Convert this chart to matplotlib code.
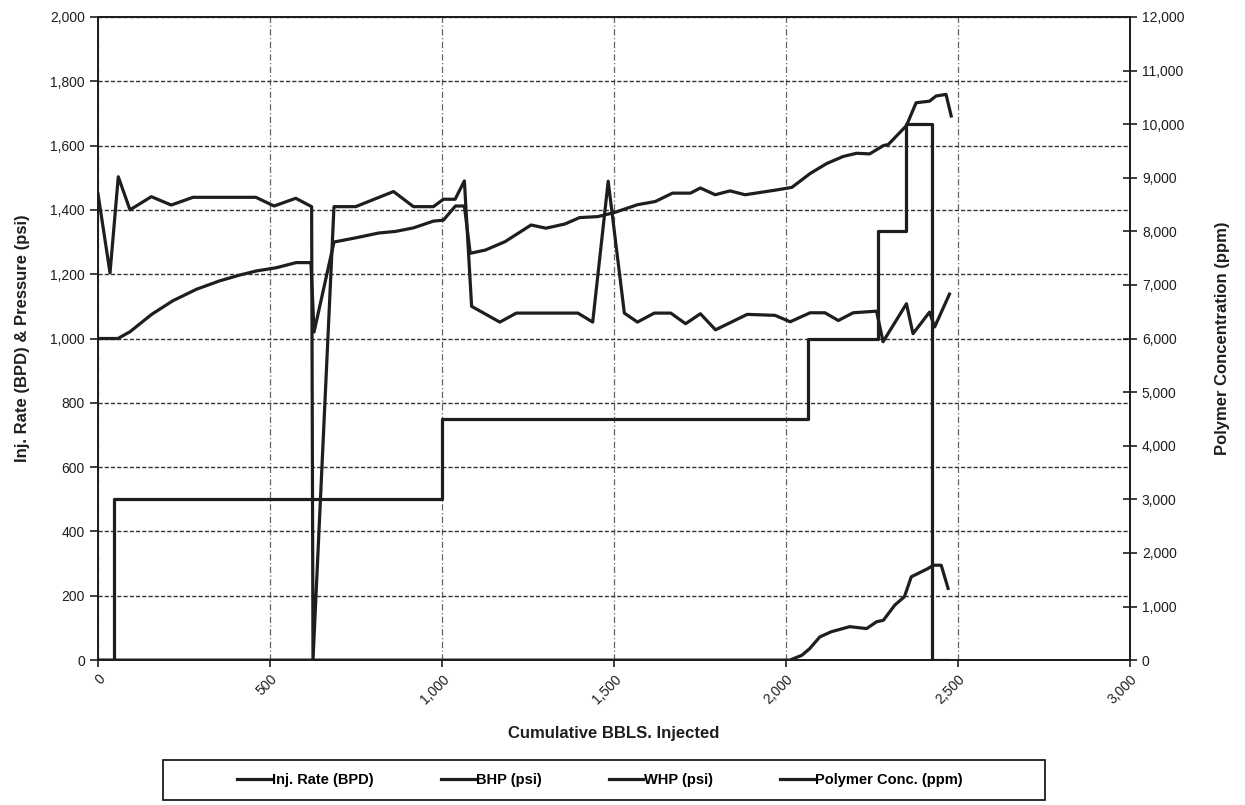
import matplotlib
matplotlib.use("Agg")
import matplotlib.pyplot as plt
from matplotlib.patches import Rectangle
from matplotlib.ticker import FuncFormatter

plt.rcParams['font.family'] = ['Liberation Sans', 'DejaVu Sans']

# injection rate (BPD)
rate_x = [0, 35, 59, 93, 155, 213, 276, 459, 512, 575, 621, 625, 686, 749, 859, 917,
          975, 1004, 1038, 1065, 1086, 1168, 1216, 1395, 1438, 1483, 1530, 1568, 1617,
          1665, 1708, 1751, 1795, 1887, 1968, 2012, 2070, 2113, 2152, 2195, 2263, 2282,
          2350, 2369, 2417, 2432, 2475]
rate = [1450, 1204, 1503, 1400, 1441, 1415, 1439, 1439, 1412, 1436, 1410, 0, 1410, 1410,
        1457, 1410, 1410, 1433, 1433, 1490, 1100, 1051, 1079, 1079, 1051, 1489, 1079, 1051,
        1079, 1079, 1046, 1077, 1027, 1075, 1072, 1052, 1080, 1080, 1056, 1080, 1085, 990,
        1108, 1015, 1082, 1036, 1138]

# bottom hole pressure (psi)
bhp_x = [0, 58, 93, 156, 217, 286, 353, 411, 460, 518, 576, 619, 628, 686, 749, 816, 865,
         917, 975, 1004, 1039, 1065, 1082, 1126, 1183, 1259, 1302, 1357, 1400, 1453, 1502,
         1568, 1620, 1670, 1722, 1751, 1794, 1837, 1881, 1973, 2017, 2070, 2118, 2166, 2205,
         2243, 2283, 2297, 2350, 2378, 2417, 2436, 2465, 2480]
bhp = [1000, 1000, 1021, 1075, 1117, 1153, 1179, 1197, 1210, 1220, 1236, 1236, 1020, 1300,
       1313, 1328, 1333, 1344, 1365, 1368, 1412, 1412, 1265, 1275, 1301, 1353, 1343, 1356,
       1376, 1379, 1392, 1416, 1426, 1452, 1452, 1468, 1447, 1459, 1447, 1462, 1470, 1513,
       1544, 1566, 1576, 1574, 1600, 1603, 1662, 1733, 1738, 1754, 1759, 1692]

# wellhead pressure (psi)
whp_x = [0, 2011, 2046, 2069, 2098, 2131, 2185, 2234, 2263, 2283, 2316, 2344, 2364, 2413,
         2428, 2451, 2471]
whp = [0, 0, 15, 36, 72, 88, 104, 98, 119, 124, 171, 197, 259, 285, 295, 295, 223]

# polymer concentration (ppm), step starts
poly_x = [0, 46, 1000, 2063, 2266, 2350, 2425, 2470]
poly = [0, 3000, 4500, 6000, 8000, 10000, 0, 0]

labels = ['Inj. Rate (BPD)', 'BHP (psi)', 'WHP (psi)', 'Polymer Conc. (ppm)']

ink = '#1e1e1e'
lw = 2.3

fig = plt.figure(figsize=(12.45, 8.05), dpi=100)
ax = fig.add_axes([0.0787, 0.180, 0.829, 0.799])
ax2 = ax.twinx()

l1, = ax.plot(rate_x, rate, color=ink, lw=lw)
l2, = ax.plot(bhp_x, bhp, color=ink, lw=lw)
l3, = ax.plot(whp_x, whp, color=ink, lw=lw)
l4, = ax2.plot(poly_x, poly, color=ink, lw=lw, drawstyle='steps-post')

ax.set_xlim(0, 3000)
ax.set_ylim(0, 2000)
ax2.set_ylim(0, 12000)
ax.set_xticks(range(0, 3001, 500))
ax.set_yticks(range(0, 2001, 200))
ax2.set_yticks(range(0, 12001, 1000))

fmt = FuncFormatter(lambda v, p: f'{int(v):,}')
ax.xaxis.set_major_formatter(fmt)
ax.yaxis.set_major_formatter(fmt)
ax2.yaxis.set_major_formatter(fmt)

ax.grid(axis='y', color='#333333', lw=1.0, ls=(0, (3, 1.5)))
ax.grid(axis='x', color='#666666', lw=0.9, ls=(0, (5, 2, 1, 2)))
ax.set_axisbelow(True)

for a in (ax, ax2):
    for s in a.spines.values():
        s.set_color(ink)
        s.set_linewidth(1.4)

ax.tick_params(axis='y', direction='out', length=6, width=1.2, labelsize=10, colors=ink)
ax.tick_params(axis='x', direction='out', length=5, width=1.2, labelsize=10, colors=ink)
ax2.tick_params(axis='y', direction='inout', length=10, width=1.2, labelsize=10, colors=ink)
plt.setp(ax.get_xticklabels(), rotation=45, ha='right', va='top', rotation_mode='anchor')

ax.set_xlabel('Cumulative BBLS. Injected', fontsize=12, fontweight='bold', labelpad=14, color=ink)
ax.set_ylabel('Inj. Rate (BPD) & Pressure (psi)', fontsize=12, fontweight='bold', labelpad=14, color=ink)
ax2.set_ylabel('Polymer Concentration (ppm)', fontsize=12, fontweight='bold', labelpad=22, color=ink)

# legend box drawn as its own rectangle, Excel style
fig.patches.append(Rectangle((163 / 1245, 5 / 805), 882 / 1245, 40 / 805,
                             transform=fig.transFigure, fill=False, ec=ink, lw=1.3))
fig.legend([l1, l2, l3, l4], labels, loc='center', bbox_to_anchor=(0.482, 0.031),
           ncol=4, frameon=False, handlelength=2.3, handletextpad=0.1,
           columnspacing=4.6, prop={'size': 10.5, 'weight': 'bold'})

fig.savefig('out.png', dpi=100)
